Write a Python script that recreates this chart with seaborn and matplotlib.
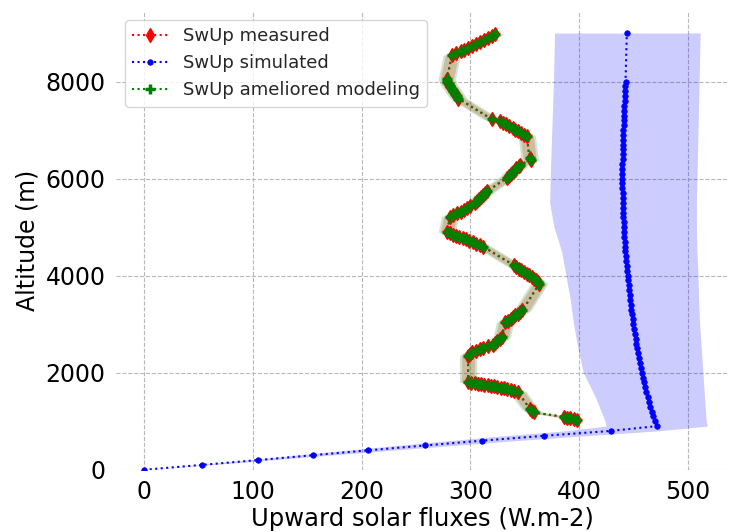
import matplotlib
matplotlib.use("Agg")
import matplotlib.pyplot as plt
import seaborn as sns

# simulated upward SW flux (W.m-2) vs altitude (m)
sim_alt = [0, 100, 200, 300, 400, 500, 600, 700, 800, 900,
           1000, 1100, 1200, 1300, 1400, 1500, 1600, 1700, 1800, 1900,
           2000, 2100, 2200, 2300, 2400, 2500, 2600, 2700, 2800, 2900,
           3000, 3100, 3200, 3300, 3400, 3500, 3600, 3700, 3800, 3900,
           4000, 4100, 4200, 4300, 4400, 4500, 4600, 4700, 4800, 4900,
           5000, 5100, 5200, 5300, 5400, 5500, 5600, 5700, 5800, 5900,
           6000, 6100, 6200, 6300, 6400, 6500, 6600, 6700, 6800, 6900,
           7000, 7100, 7200, 7300, 7400, 7500, 7600, 7700, 7800, 7900,
           8000, 9000]
sim_flux = [0, 53, 105, 155, 206, 258, 311, 368, 429, 472,
            470.0, 468.5, 467.0, 465.7, 464.4, 463.2, 462.0, 460.9, 459.8, 458.8,
            457.8, 456.9, 456.0, 455.2, 454.4, 453.6, 452.8, 452.1, 451.4, 450.7,
            450.0, 449.4, 448.8, 448.2, 447.6, 447.1, 446.6, 446.1, 445.6, 445.1,
            444.7, 444.3, 443.9, 443.5, 443.1, 442.7, 442.4, 442.1, 441.8, 441.5,
            441.2, 441.0, 440.8, 440.6, 440.4, 440.3, 440.2, 440.1, 440.0, 440.0,
            440.0, 440.0, 440.0, 440.0, 440.1, 440.2, 440.3, 440.4, 440.5, 440.6,
            440.8, 441.0, 441.2, 441.4, 441.6, 441.8, 442.0, 442.2, 442.4, 442.6,
            442.8, 444.0]

# uncertainty envelope of the simulation
band_alt = [0, 100, 200, 300, 400, 500, 600, 700, 800, 900,
            1000, 1500, 2000, 2500, 3000, 3500, 4000, 4500, 5000, 5500,
            6000, 7000, 8000, 9000]
band_lo = [0, 48, 94.5, 139.5, 185, 232, 280, 331, 386, 425,
           424, 415, 404, 399, 395, 392, 388, 384, 377, 373,
           373.5, 375, 376.5, 377.5]
band_hi = [0, 58, 115.5, 170.5, 226.5, 284, 342, 405, 472, 518,
           517, 515.5, 514, 512.5, 511, 510, 509.5, 508.5, 508, 508,
           508.5, 509.5, 510.5, 511.5]

# measured profile
meas_alt = [8980, 8940, 8900, 8860, 8820, 8780, 8740, 8700, 8660, 8620, 8580, 8540,
            8050, 8000, 7950, 7900, 7850, 7800, 7750, 7700, 7650,
            7220,
            7185, 7150, 7115, 7080, 7045, 7010, 6975, 6940, 6905, 6875,
            6420, 6380,
            6290, 6250, 6210, 6170, 6130, 6090, 6050, 6010,
            5735, 5700, 5660, 5620, 5580, 5540, 5495,
            5425, 5390, 5355, 5320, 5285, 5250, 5215,
            4900, 4870, 4845, 4820, 4795, 4770, 4745, 4720, 4690, 4660, 4630, 4595,
            4215, 4180, 4145, 4110, 4075, 4040, 4005, 3970, 3935, 3900, 3865, 3835,
            3285, 3250, 3215, 3180, 3145, 3110, 3075, 3040,
            2730, 2690, 2650, 2610, 2570, 2540, 2510, 2480, 2450, 2420, 2385, 2350,
            1800, 1790, 1780, 1770, 1760, 1750, 1740, 1730, 1720, 1710, 1695, 1680,
            1665, 1650, 1630, 1610,
            1250, 1215, 1180,
            1090, 1075, 1060, 1045, 1030]
meas_flux = [323, 320, 316.5, 313, 309, 305.5, 302, 298, 294.5, 291, 287, 283,
             278.5, 279, 280, 281.5, 283, 284.5, 286, 287.5, 289,
             320,
             327.5, 330.5, 333, 336, 339, 341.5, 344, 347, 349.5, 352,
             354.5, 355.5,
             346, 344.5, 342.5, 341, 339, 337, 335.5, 333.5,
             315, 313.5, 311.5, 309.5, 308, 306.5, 304.5,
             300, 297, 294, 291, 288, 284.5, 281.5,
             278.5, 281, 284, 287, 290, 293, 296, 299, 302.5, 305.5, 309, 312,
             340, 342.5, 345, 347, 349.5, 352, 354, 356.5, 358.5, 360.5, 362, 363.5,
             348, 346, 343.5, 341, 339, 337, 334.5, 332,
             329, 327, 325, 323, 320.5, 316, 312, 308.5, 305, 302, 299.5, 298,
             298, 301, 304, 307, 310, 313, 316, 319, 322, 325, 328, 331,
             334, 337, 340.5, 343.5,
             355, 357, 359,
             386, 389, 392, 395, 398]
meas_err = 6

# ameliored modeling falls on the measured points
amel_alt = meas_alt
amel_flux = meas_flux
amel_err = 8

sns.set_style("whitegrid", {"grid.linestyle": "--", "grid.color": "#b8b8b8"})

fig = plt.figure(figsize=(7.29, 5.32), dpi=100)
ax = fig.add_axes([0.159, 0.117, 0.841, 0.862])

ax.fill_betweenx(band_alt, band_lo, band_hi, color="blue", alpha=0.2, lw=0)
ax.fill_betweenx(meas_alt, [v - meas_err for v in meas_flux], [v + meas_err for v in meas_flux],
                 color="red", alpha=0.2, lw=0)
ax.fill_betweenx(amel_alt, [v - amel_err for v in amel_flux], [v + amel_err for v in amel_flux],
                 color="green", alpha=0.2, lw=0)

sns.lineplot(x=meas_flux, y=meas_alt, sort=False, estimator=None, ax=ax,
             color="red", linestyle=":", linewidth=1.5, marker="d", markersize=7,
             markeredgecolor="red", markeredgewidth=1, label="SwUp measured")
sns.lineplot(x=sim_flux, y=sim_alt, sort=False, estimator=None, ax=ax,
             color="blue", linestyle=":", linewidth=1.5, marker=".", markersize=8,
             markeredgecolor="blue", markeredgewidth=0.5, label="SwUp simulated")
sns.lineplot(x=amel_flux, y=amel_alt, sort=False, estimator=None, ax=ax,
             color="green", linestyle=":", linewidth=1.5, marker="+", markersize=7,
             markeredgecolor="green", markeredgewidth=2.5, label="SwUp ameliored modeling")

ax.set_xlim(-26, 538)
ax.set_ylim(0, 9450)
ax.set_xticks([0, 100, 200, 300, 400, 500])
ax.set_yticks([0, 2000, 4000, 6000, 8000])
for s in ax.spines.values():
    s.set_visible(False)
ax.tick_params(labelsize=17, length=4, color="#888888", labelcolor="black")
ax.set_xlabel("Upward solar fluxes (W.m-2)", fontsize=17.5, color="black", labelpad=2)
ax.set_ylabel("Altitude (m)", fontsize=17, color="black")

leg = ax.legend(loc="upper left", fontsize=13, frameon=True)
leg.get_frame().set_edgecolor("#cccccc")

fig.savefig("out.png", dpi=100)
